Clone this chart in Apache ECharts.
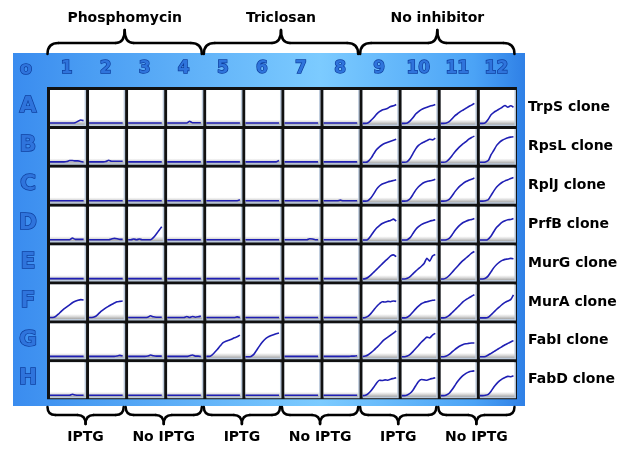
<!DOCTYPE html>
<html>
<head>
<meta charset="utf-8">
<script src="https://cdn.jsdelivr.net/npm/echarts@6/dist/echarts.min.js"></script>
<style>html,body{margin:0;padding:0;background:#fff}#c{width:618px;height:452px}</style>
</head>
<body>
<div id="c"></div>
<script>
// ---- data (OD-like values in % of well height, 13 time points per well) ----
const colLabels = ['1','2','3','4','5','6','7','8','9','10','11','12'];
const rowLetters = ['A','B','C','D','E','F','G','H'];
const rowNames = ['TrpS clone','RpsL clone','RplJ clone','PrfB clone','MurG clone','MurA clone','FabI clone','FabD clone'];
const topGroups = ['Phosphomycin','Triclosan','No inhibitor'];
const bottomGroups = ['IPTG','No IPTG','IPTG','No IPTG','IPTG','No IPTG'];
const F = [4,4,4,4,4,4,4,4,4,4,4,4,4];

const rowA = [
  [4,4,4,4,4,4,4,4,4,5,9,13,11], F, F, [4,4,4,4,4,4,4,4,9,5,5,5,5],
  F, F, F, F,
  [3,3,5,12,20,30,37,42,44,47,52,54,58],
  [3,3,4,10,19,30,37,43,47,50,53,55,58],
  [3,3,4,8,16,25,31,37,42,47,52,56,61],
  [3,3,5,15,28,35,40,45,50,55,50,54,50]
];
const rowB = [
  [4,4,4,4,4,4,5,8,8,7,7,5,4], [4,4,4,4,4,4,5,9,6,6,6,6,6], F, F,
  F, [4,4,4,4,4,4,4,4,4,4,4,4,8], F, F,
  [3,3,6,15,28,40,48,54,58,61,64,67,70],
  [3,3,5,14,28,42,52,58,62,66,70,68,73],
  [3,3,5,12,22,33,42,50,57,63,70,75,79],
  [3,3,4,8,25,38,52,61,67,71,74,76,77]
];
const rowC = [
  F, F, F, F,
  [4,4,4,4,4,4,4,4,4,4,4,4,7], F, F, [4,4,4,4,4,4,6,4,4,4,4,4,4],
  [3,3,5,13,25,38,47,53,56,59,61,63,65],
  [3,3,4,10,22,35,45,52,57,60,62,64,67],
  [3,3,4,8,18,30,40,48,55,60,64,67,70],
  [3,3,4,7,20,33,44,52,58,62,65,69,72]
];
const rowD = [
  [4,4,4,4,4,4,4,4,9,5,5,5,5], [4,4,4,4,4,4,4,4,6,8,7,5,5], [4,4,6,4,6,4,4,4,4,10,20,31,42], F,
  F, F, [4,4,4,4,4,4,4,4,4,7,6,4,4], F,
  [3,3,6,16,28,38,45,51,55,58,60,64,58],
  [3,3,4,10,22,34,42,48,52,55,58,60,62],
  [3,3,4,8,18,30,40,48,54,58,61,63,66],
  [3,3,3,6,15,28,40,48,55,59,62,63,66]
];
const rowE = [
  F, F, F, F,
  F, F, F, F,
  [3,4,8,15,23,31,39,47,55,62,70,73,68],
  [3,3,5,10,18,26,33,40,48,63,55,70,74],
  [3,3,6,13,22,31,40,49,57,64,71,78,83],
  [3,3,5,12,24,36,45,52,57,60,61,63,62]
];
const rowF = [
  [4,4,7,14,22,29,35,41,47,51,54,56,55], [4,4,6,12,20,26,32,37,42,46,50,51,52],
  [4,4,4,4,4,4,4,5,9,6,5,5,5], [4,4,4,4,4,4,4,7,4,7,5,6,8],
  [4,4,4,4,4,4,4,4,4,4,4,6,4], F, F, F,
  [3,4,8,16,26,36,44,50,49,51,50,52,51],
  [3,3,5,11,20,29,37,44,48,50,52,54,55],
  [3,3,5,10,18,26,34,42,50,56,61,66,70],
  [3,3,3,5,12,20,28,35,42,48,52,56,70]
];
const rowG = [
  F, [4,4,4,4,4,4,4,4,4,4,5,7,5], [4,4,4,4,4,4,4,5,8,6,5,5,5], [4,4,4,4,4,4,4,4,6,8,5,5,4],
  [4,4,8,16,25,35,44,48,51,54,58,61,66], [3,3,4,10,22,34,45,54,60,64,67,70,72],
  F, [4,4,4,4,4,4,4,4,4,4,5,5,6],
  [4,5,9,15,22,30,38,47,54,60,66,72,78],
  [3,3,5,10,18,27,36,45,53,60,58,66,71],
  [3,3,5,10,17,24,30,35,39,41,42,43,43],
  [3,3,4,8,13,18,23,28,33,38,42,46,50]
];
const rowH = [
  [4,4,4,4,4,4,4,4,7,5,4,4,4], F, F, F,
  F, F, F, F,
  [3,4,9,17,28,40,48,47,49,48,51,53,55],
  [3,3,5,10,19,32,44,50,49,48,51,53,55],
  [3,3,5,10,20,32,44,54,62,68,72,74,75],
  [3,3,4,7,16,28,38,46,52,56,59,58,61]
];
const rows = [rowA,rowB,rowC,rowD,rowE,rowF,rowG,rowH];

// ---- layout ----
const PX0 = 47, PY0 = 87, CW = 39.08, CH = 38.9;
const colX = c => PX0 + c*CW;
const rowY = r => PY0 + r*CH;

const graphics = [];
// plate
graphics.push({type:'rect', z:0, shape:{x:13,y:53,width:512,height:353},
  style:{fill:{type:'linear',x:0,y:0,x2:1,y2:0,colorStops:[
    {offset:0,color:'#3a8cef'},{offset:0.15,color:'#4a9df3'},{offset:0.6,color:'#7ccbff'},
    {offset:0.9,color:'#4ba3f6'},{offset:1,color:'#2f80e6'}]}}});
// black grid background
graphics.push({type:'rect', z:1, shape:{x:PX0,y:PY0,width:12*CW+1,height:8*CH+1}, style:{fill:'#111'}});
for (let r=0;r<8;r++) for (let c=0;c<12;c++){
  const x0 = colX(c), y0 = rowY(r);
  graphics.push({type:'rect', z:2, shape:{x:x0+3,y:y0+3,width:CW-3,height:CH-3}, style:{fill:'#bccadb'}});
  graphics.push({type:'rect', z:3, shape:{x:x0+3,y:y0+3,width:CW-4.5,height:CH-4.5},
    style:{fill:{type:'linear',x:0,y:0,x2:0,y2:1,colorStops:[
      {offset:0,color:'#ffffff'},{offset:0.86,color:'#ffffff'},{offset:0.93,color:'#dadada'},{offset:1,color:'#a8a8a8'}]}}});
}
const blueText = (t,x,y,size) => ({type:'text', z:5, style:{text:t,x:x,y:y,
  font:'bold '+size+'px "DejaVu Sans"',fill:'#2f74dc',stroke:'#0f3f9e',lineWidth:1.4,
  textAlign:'center',textVerticalAlign:'middle'}});
graphics.push(blueText('o',26,69,18));
colLabels.forEach((t,c)=>graphics.push(blueText(t,colX(c)+CW/2,69,17)));
rowLetters.forEach((t,r)=>graphics.push(blueText(t,28,rowY(r)+CH/2,22)));
rowNames.forEach((t,r)=>graphics.push({type:'text',z:5,style:{text:t,x:528,y:rowY(r)+CH/2+1,
  font:'bold 14px "DejaVu Sans"',fill:'#000',textAlign:'left',textVerticalAlign:'middle'}}));
// braces built from lines and quadratic curves
const braceStyle = {stroke:'#000',lineWidth:2.5,lineCap:'round',fill:null};
function pushBrace(x1,x2,yEnd,yMid,yTip,rEnd,rTip){
  const m=(x1+x2)/2;
  const q=(a,b,cx,cy,d,e)=>graphics.push({type:'bezierCurve',z:5,shape:{x1:a,y1:b,cpx1:cx,cpy1:cy,x2:d,y2:e},style:braceStyle});
  const l=(a,b,d,e)=>graphics.push({type:'line',z:5,shape:{x1:a,y1:b,x2:d,y2:e},style:braceStyle});
  q(x1,yEnd,x1,yMid,x1+rEnd,yMid);
  l(x1+rEnd,yMid,m-rTip,yMid);
  q(m-rTip,yMid,m,yMid,m,yTip);
  q(m,yTip,m,yMid,m+rTip,yMid);
  l(m+rTip,yMid,x2-rEnd,yMid);
  q(x2-rEnd,yMid,x2,yMid,x2,yEnd);
}
topGroups.forEach((t,g)=>{
  const x1 = colX(g*4)+0.5, x2 = colX(g*4+4)-1.5;
  pushBrace(x1,x2,54,43,30,11,9);
  graphics.push({type:'text',z:5,style:{text:t,x:(x1+x2)/2,y:18,font:'bold 14px "DejaVu Sans"',fill:'#000',textAlign:'center',textVerticalAlign:'middle'}});
});
bottomGroups.forEach((t,g)=>{
  const x1 = colX(g*2)+0.5, x2 = colX(g*2+2)-1.5;
  pushBrace(x1,x2,407,415,424,8,8);
  graphics.push({type:'text',z:5,style:{text:t,x:(x1+x2)/2,y:437,font:'bold 14px "DejaVu Sans"',fill:'#000',textAlign:'center',textVerticalAlign:'middle'}});
});

// ---- grids / axes / series ----
const grids=[], xAxes=[], yAxes=[], series=[];
rows.forEach((row,r)=>row.forEach((vals,c)=>{
  const i = r*12+c;
  grids.push({left:colX(c)+3, top:rowY(r)+3, width:CW-5.5, height:CH-4.5, show:false});
  xAxes.push({type:'value', gridIndex:i, min:0, max:12, show:false});
  yAxes.push({type:'value', gridIndex:i, min:0, max:100, show:false});
  series.push({type:'line', xAxisIndex:i, yAxisIndex:i, z:10, showSymbol:false, silent:true,
    data:vals.map((v,t)=>[t,v]), lineStyle:{color:'#1f1fb4', width:1.6}, smooth:0.2});
}));

const chart = echarts.init(document.getElementById('c'), null, {renderer:'canvas'});
chart.setOption({animation:false, backgroundColor:'#fff', graphic:{elements:graphics},
  grid:grids, xAxis:xAxes, yAxis:yAxes, series:series});
</script>
</body>
</html>
